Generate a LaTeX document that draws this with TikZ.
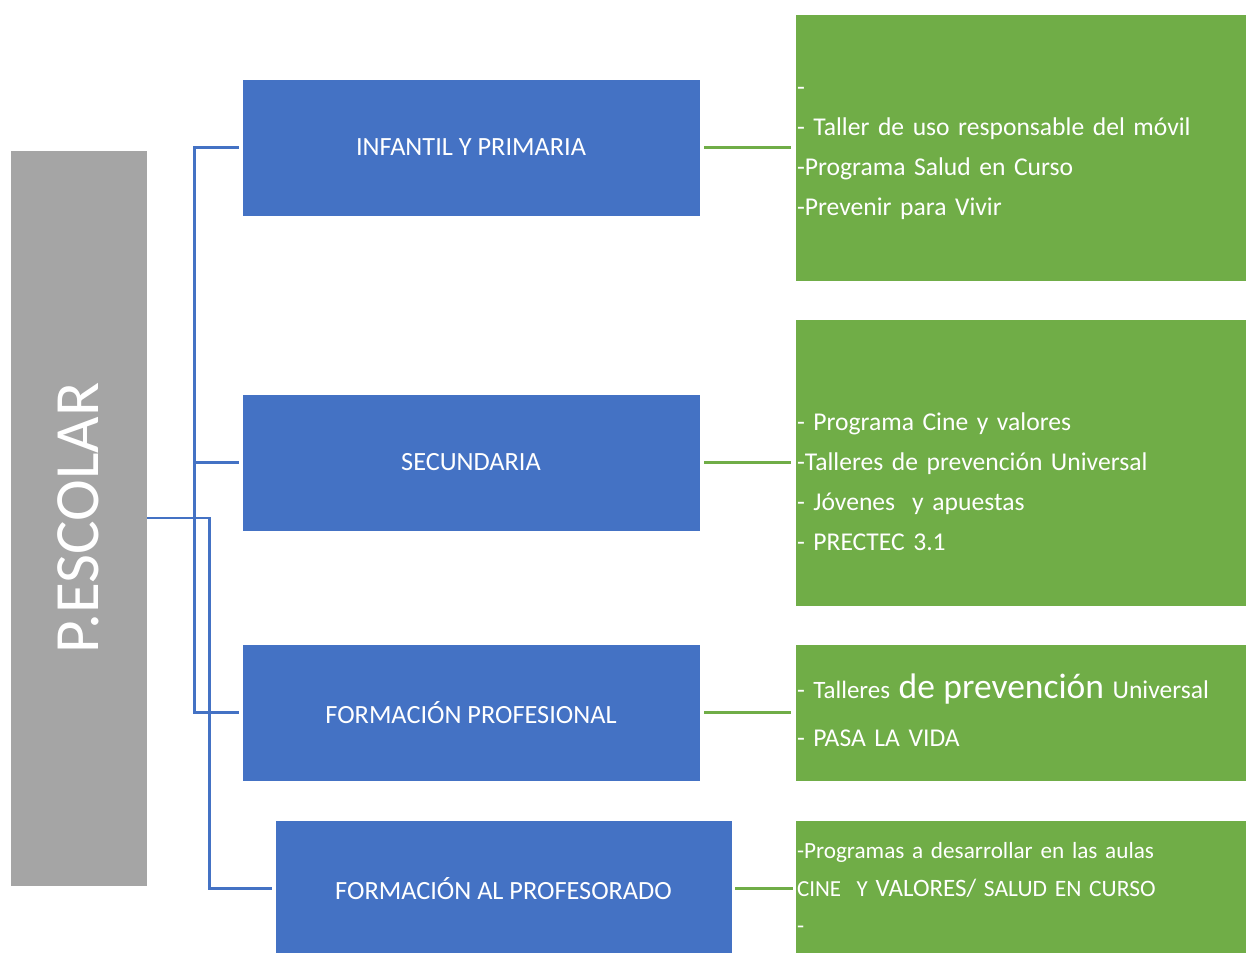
\documentclass[tikz,border=0pt]{standalone}
\usepackage{fontspec}
\usepackage{graphicx}
\setmainfont{Carlito}

\definecolor{azul}{HTML}{4472C4}
\definecolor{verde}{HTML}{70AD47}
\definecolor{gris}{HTML}{A5A5A5}

\tikzset{
  caja/.style={draw=white, line width=0.8pt, text=white, inner sep=0pt},
  cajaazul/.style={caja, fill=azul, minimum width=458, minimum height=137,
    font=\fontsize{26.3}{32}\selectfont},
  cajaverde/.style={caja, fill=verde, minimum width=455, text width=451,
    inner xsep=2pt, align=left},
  lineaazul/.style={azul, line width=2.8pt},
  lineaverde/.style={verde, line width=2.8pt}
}

\begin{document}
\begin{tikzpicture}[x=1pt, y=-1pt]
\useasboundingbox (0,0) rectangle (1246,952);
\clip (0,0) rectangle (1246,952);

% raiz
\node[caja, fill=gris, minimum width=137, minimum height=736,
  font=\fontsize{63}{70}\selectfont] (escolar) at (78.5,518) {\rotatebox{90}{P.ESCOLAR}};

% niveles
\node[cajaazul] (infantil) at (471,147.5) {INFANTIL Y PRIMARIA};
\node[cajaazul] (secundaria) at (471,462.5) {SECUNDARIA};
\node[cajaazul] (fp) at (471,712.5) {FORMACIÓN PROFESIONAL};
\node[cajaazul, minimum width=457] (profesorado) at (503.5,888.5) {FORMACIÓN AL PROFESORADO};

% programas
\node[cajaverde, minimum height=267, font=\fontsize{25.6}{40}\selectfont] (prog1) at (1022.5,147.5)
  {\strut-\\\strut- Taller de uso responsable del móvil\\\strut-Programa Salud en Curso\\\strut-Prevenir para Vivir};
\node[cajaverde, minimum height=287, font=\fontsize{25.6}{40}\selectfont] (prog2) at (1022.5,462.5)
  {\strut\\\strut- Programa Cine y valores\\\strut-Talleres de prevención Universal\\\strut- Jóvenes~ y apuestas\\\strut- PRECTEC 3.1};
\node[cajaverde, minimum height=137, font=\fontsize{25.6}{48}\selectfont] (prog3) at (1022.5,712.5)
  {\strut- {\fontsize{25}{48}\selectfont Talleres} {\fontsize{35.5}{48}\selectfont de prevención} Universal\\\strut- PASA LA VIDA};
\node[cajaverde, minimum height=137, font=\fontsize{23.2}{37.5}\selectfont] (prog4) at (1022.5,888.5)
  {\strut-Programas a desarrollar en las aulas\\\strut{\fontsize{23}{37.5}\selectfont CINE~ Y} {\fontsize{25}{37.5}\selectfont VALORES/} {\fontsize{23.5}{37.5}\selectfont SALUD EN CURSO}\\\strut-};

% conectores
\draw[lineaazul] (escolar.east) -- ++(62,0) |- ([xshift=-3pt]profesorado.west);
\draw[lineaazul] ([xshift=-3pt]infantil.west) -- ++(-44,0) |- ([xshift=-3pt]fp.west);
\draw[lineaazul] ([xshift=-3pt]secundaria.west) -- ++(-44,0);

\draw[lineaverde] ([xshift=4pt]infantil.east) -- ([xshift=-4pt]prog1.west);
\draw[lineaverde] ([xshift=4pt]secundaria.east) -- ([xshift=-4pt]prog2.west);
\draw[lineaverde] ([xshift=4pt]fp.east) -- ([xshift=-4pt]prog3.west);
\draw[lineaverde] ([xshift=3pt]profesorado.east) -- ([xshift=-2pt]prog4.west);
\end{tikzpicture}
\end{document}
